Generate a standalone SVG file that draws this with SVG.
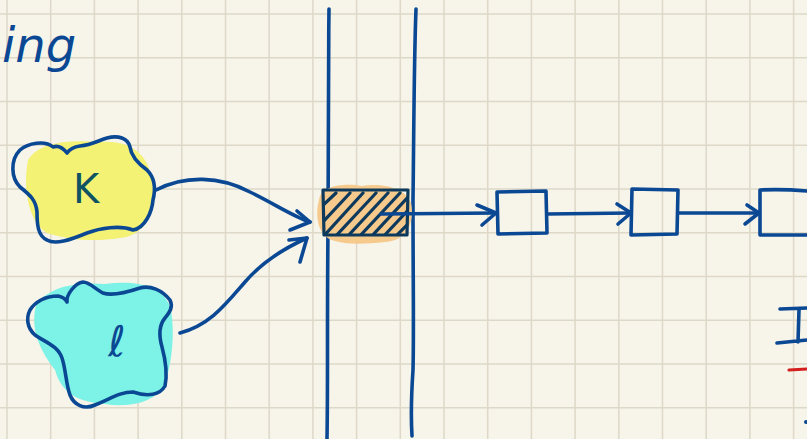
<svg xmlns="http://www.w3.org/2000/svg" width="807" height="439" viewBox="0 0 807 439">
  <defs>
    <clipPath id="cellClip">
      <path d="M323 190 L408 190 L407 235 L324 235 Z"/>
    </clipPath>
  </defs>
  <style>
    .grid line { stroke: #ddd8c8; stroke-width: 1.5; }
    .ink { fill: none; stroke: #0b4894; stroke-width: 3.6; stroke-linecap: round; stroke-linejoin: round; }
    .hatch { fill: none; stroke: #0d3a5c; stroke-width: 3.2; stroke-linecap: round; }
    .hand { font-family: "DejaVu Sans", "Liberation Sans", sans-serif; }
  </style>

  <!-- paper -->
  <rect width="807" height="439" fill="#f7f4e9"/>
  <g class="grid">
    <line x1="7" y1="0" x2="7" y2="439"/>
    <line x1="50.7" y1="0" x2="50.7" y2="439"/>
    <line x1="94.4" y1="0" x2="94.4" y2="439"/>
    <line x1="138.1" y1="0" x2="138.1" y2="439"/>
    <line x1="181.8" y1="0" x2="181.8" y2="439"/>
    <line x1="225.5" y1="0" x2="225.5" y2="439"/>
    <line x1="269.2" y1="0" x2="269.2" y2="439"/>
    <line x1="312.9" y1="0" x2="312.9" y2="439"/>
    <line x1="356.6" y1="0" x2="356.6" y2="439"/>
    <line x1="400.3" y1="0" x2="400.3" y2="439"/>
    <line x1="444" y1="0" x2="444" y2="439"/>
    <line x1="487.7" y1="0" x2="487.7" y2="439"/>
    <line x1="531.4" y1="0" x2="531.4" y2="439"/>
    <line x1="575.1" y1="0" x2="575.1" y2="439"/>
    <line x1="618.8" y1="0" x2="618.8" y2="439"/>
    <line x1="662.5" y1="0" x2="662.5" y2="439"/>
    <line x1="706.2" y1="0" x2="706.2" y2="439"/>
    <line x1="749.9" y1="0" x2="749.9" y2="439"/>
    <line x1="793.6" y1="0" x2="793.6" y2="439"/>
    <line x1="0" y1="14" x2="807" y2="14"/>
    <line x1="0" y1="57.75" x2="807" y2="57.75"/>
    <line x1="0" y1="101.5" x2="807" y2="101.5"/>
    <line x1="0" y1="145.25" x2="807" y2="145.25"/>
    <line x1="0" y1="189" x2="807" y2="189"/>
    <line x1="0" y1="232.75" x2="807" y2="232.75"/>
    <line x1="0" y1="276.5" x2="807" y2="276.5"/>
    <line x1="0" y1="320.25" x2="807" y2="320.25"/>
    <line x1="0" y1="364" x2="807" y2="364"/>
    <line x1="0" y1="407.75" x2="807" y2="407.75"/>
  </g>

  <!-- heading fragment -->
  <text class="hand" x="2" y="62" font-size="48" font-style="italic" fill="#0b4894">ing</text>

  <!-- hash table column -->
  <g id="table">
    <path class="ink" d="M329 9 C328 80 329 150 328 230 C327 320 328 380 327 439"/>
    <path class="ink" d="M416 9 C414 60 414 120 413 200 C413 280 414 330 413 370 C411 400 411 420 412 436"/>
  </g>

  <!-- highlighted bucket -->
  <g id="bucket">
    <path d="M319 200 C321 185 345 183 362 186 C380 183 405 187 411 203 C415 222 407 241 385 242 C365 244 350 245 335 241 C317 237 315 215 319 200 Z" fill="#f6c98c"/>
    <g clip-path="url(#cellClip)">
      <path class="hatch" d="M318 210 L336 193 M320 225 L350 193 M322 238 L363 193 M334 238 L376 193 M346 238 L388 193 M358 238 L400 193 M370 238 L410 195 M382 238 L412 206 M394 238 L412 220"/>
    </g>
    <path d="M323 190 L408 190 L407 235 L324 235 Z" fill="none" stroke="#0d3a5c" stroke-width="3.2" stroke-linejoin="round"/>
  </g>

  <!-- chain nodes -->
  <g id="node1"><path class="ink" d="M497 192 L546 191 L547 233 L498 234 Z"/></g>
  <g id="node2"><path class="ink" d="M632 189 L678 190 L677 234 L631 235 Z"/></g>
  <g id="node3"><path class="ink" d="M760 190 C780 189 795 190 807 191 M760 190 L760 235 L807 235"/></g>

  <!-- key k -->
  <g id="key-k">
    <path d="M28 160 C40 140 75 140 100 142 C125 140 148 150 152 180 C156 205 150 235 120 238 C95 242 70 240 50 234 C30 228 22 190 28 160 Z" fill="#f3f275"/>
    <path class="ink" d="M67 153 C63 148 58 145 53 147 C45 140 28 143 20 150 C10 160 11 178 20 187 C30 195 36 200 37 212 C37 225 38 236 47 240 C55 245 70 240 87 233 C100 228 120 225 133 230 C145 228 152 212 153 200 C156 188 155 178 147 170 C136 162 131 155 130 147 C128 138 118 135 107 138 C97 141 92 145 80 146 C73 147 69 150 67 153"/>
    <text class="hand" x="86" y="203" font-size="40" text-anchor="middle" fill="#105463">K</text>
  </g>

  <!-- key l -->
  <g id="key-l">
    <path d="M36 305 C50 285 80 282 105 284 C135 280 165 285 171 310 C175 335 172 360 165 385 C155 402 130 408 105 404 C80 402 62 395 55 370 C40 350 30 330 36 305 Z" fill="#7df2e6"/>
    <path class="ink" d="M67 302 C66 295 75 283 83 282 C90 282 96 290 103 293 C112 296 125 293 140 288 C150 285 162 290 170 300 C174 308 168 314 165 318 C160 324 158 333 162 347 C165 358 168 372 165 386 C160 395 148 397 133 392 C120 392 112 398 95 405 C84 410 74 405 70 395 C66 385 66 370 62 358 C58 346 45 342 35 335 C27 328 26 318 30 310 C35 302 45 296 58 296 C63 297 66 300 67 302"/>
    <text class="hand" x="117" y="356" font-size="42" font-style="italic" text-anchor="middle" fill="#0b4894">ℓ</text>
  </g>

  <!-- connectors -->
  <g id="connectors">
    <path class="ink" d="M156 190 C185 175 220 176 250 192 C275 204 292 216 310 222"/>
    <path class="ink" d="M297 211 L310 222 L290 230"/>
    <path class="ink" d="M180 333 C210 325 225 305 245 282 C262 262 285 248 307 238"/>
    <path class="ink" d="M289 240 L307 238 L300 262"/>
    <path class="ink" d="M381 214 L496 213"/>
    <path class="ink" d="M477 205 L496 213 L482 225"/>
    <path class="ink" d="M547 214 L631 213"/>
    <path class="ink" d="M617 204 L631 213 L618 224"/>
    <path class="ink" d="M678 213 L759 213"/>
    <path class="ink" d="M747 205 L759 213 L745 224"/>
  </g>

  <!-- marks at the right edge -->
  <path class="ink" d="M780 309 L807 308 M799 310 L798 342 M777 343 L807 340"/>
  <path d="M789 370 L807 369" stroke="#d41f1f" stroke-width="3.2" stroke-linecap="round"/>
  <circle cx="806" cy="422" r="2" fill="#0b4894"/>
</svg>
